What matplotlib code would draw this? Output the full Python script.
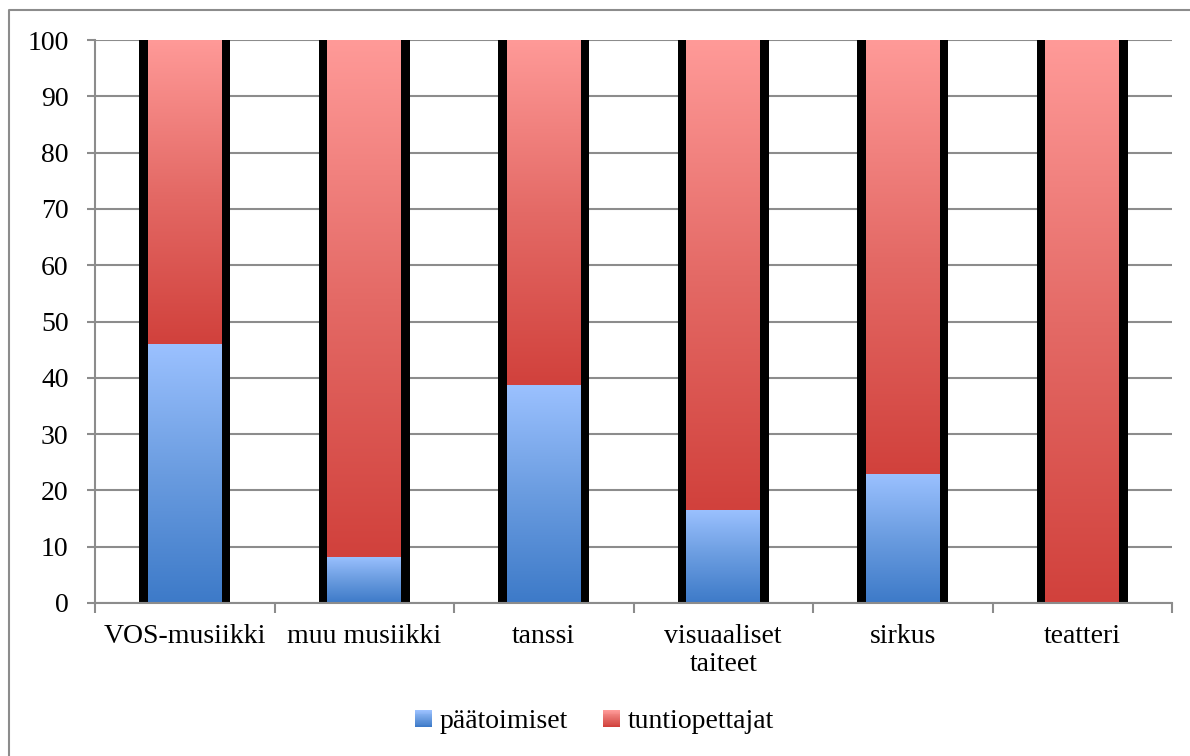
import numpy as np
import matplotlib
matplotlib.use("Agg")
import matplotlib.pyplot as plt
from matplotlib.patches import Rectangle
from matplotlib.lines import Line2D
from matplotlib.legend_handler import HandlerBase
from matplotlib.colors import LinearSegmentedColormap

categories = ['VOS-musiikki', 'muu musiikki', 'tanssi', 'visuaaliset\ntaiteet', 'sirkus', 'teatteri']
paatoimiset = [46.0, 8.2, 38.7, 16.6, 23.0, 0.0]
tuntiopettajat = [54.0, 91.8, 61.3, 83.4, 77.0, 100.0]
series_names = ['päätoimiset', 'tuntiopettajat']
yticks = [0, 10, 20, 30, 40, 50, 60, 70, 80, 90, 100]

blue_cmap = LinearSegmentedColormap.from_list('b', ['#3d7ac8', '#6a9ce0', '#9bc1ff'])
red_cmap = LinearSegmentedColormap.from_list('r', ['#d1413c', '#e46a66', '#ff9a98'])

plt.rcParams['font.family'] = ['Liberation Serif', 'DejaVu Serif']
FS = 20

fig = plt.figure(figsize=(11.9, 7.56), dpi=100)
ax = fig.add_axes([95/1190, 1-603/756, (1172-95)/1190, (603-40)/756])

x = np.arange(len(categories))
grad = np.linspace(0, 1, 256).reshape(-1, 1)
outer_w = 0.507
inner_w = 0.41

for i in range(len(categories)):
    p = paatoimiset[i]
    t = tuntiopettajat[i]
    ax.bar(x[i], p + t + 0.4, bottom=-0.4, width=outer_w, color='black', linewidth=0, zorder=2)
    if p > 0:
        ax.imshow(grad, cmap=blue_cmap, origin='lower', aspect='auto',
                  extent=[x[i]-inner_w/2, x[i]+inner_w/2, 0, p], zorder=3, interpolation='bilinear')
    if t > 0:
        ax.imshow(grad, cmap=red_cmap, origin='lower', aspect='auto',
                  extent=[x[i]-inner_w/2, x[i]+inner_w/2, p, p+t], zorder=3, interpolation='bilinear')

ax.set_xlim(-0.5, len(categories)-0.5)
ax.set_ylim(0, 100)
ax.set_yticks(yticks)
ax.set_yticklabels([str(v) for v in yticks], fontsize=FS)
ax.yaxis.grid(True, color='#8c8c8c', linewidth=1.5, zorder=0)
ax.set_axisbelow(True)

ax.set_xticks(np.arange(-0.5, len(categories)), minor=False)
ax.set_xticklabels([''] * (len(categories)+1))
ax.set_xticks(x, minor=True)
ax.set_xticklabels(categories, minor=True, fontsize=FS, linespacing=1.15)
ax.tick_params(axis='x', which='major', direction='out', length=7, width=1.5, color='#8c8c8c')
ax.tick_params(axis='x', which='minor', length=0, pad=15)
ax.tick_params(axis='y', direction='out', length=6, width=1.5, color='#8c8c8c', pad=13)

for s in ['top', 'right']:
    ax.spines[s].set_visible(False)
for s in ['left', 'bottom']:
    ax.spines[s].set_color('#8c8c8c')
    ax.spines[s].set_linewidth(1.5)
    ax.spines[s].set_zorder(4)


class HandlerGradient(HandlerBase):
    def __init__(self, cmap):
        super().__init__()
        self.cmap = cmap

    def create_artists(self, legend, orig_handle, xdescent, ydescent, width, height, fontsize, trans):
        n = 20
        size = height * 1.0
        x0 = -xdescent + (width - size) / 2
        y0 = -ydescent + (height - size) / 2
        arts = []
        for k in range(n):
            r = Rectangle((x0, y0 + size * k / n), size, size / n + 0.3,
                          facecolor=self.cmap(k / (n - 1)), edgecolor='none', transform=trans)
            arts.append(r)
        return arts


h1 = Rectangle((0, 0), 1, 1)
h2 = Rectangle((0, 0), 1, 1)
fig.legend([h1, h2], series_names, loc='center', bbox_to_anchor=(0.5, 1-722/756),
           ncol=2, frameon=False, fontsize=FS, handlelength=0.55, handleheight=0.55,
           handletextpad=0.3, columnspacing=1.3,
           handler_map={h1: HandlerGradient(blue_cmap), h2: HandlerGradient(red_cmap)})

x0 = 9/1190
y0 = 1 - 10/756
fig.add_artist(Line2D([x0, x0, 1.0], [0, y0, y0], transform=fig.transFigure,
                      color='#8c8c8c', linewidth=1.5))

fig.savefig('out.png', dpi=100)
